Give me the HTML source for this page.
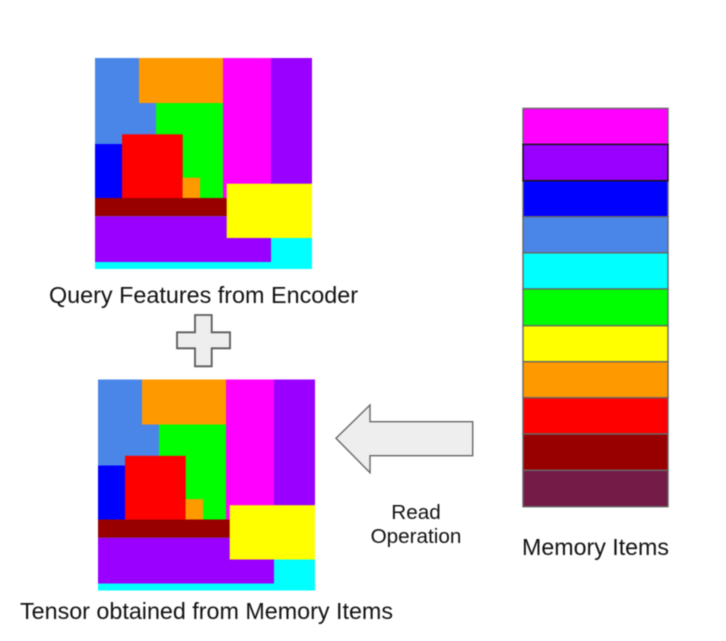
<!DOCTYPE html>
<html>
<head>
<meta charset="utf-8">
<style>
html,body{margin:0;padding:0;background:#fff;width:726px;height:641px;overflow:hidden}
svg{display:block;position:absolute;left:0;top:0;filter:blur(.45px)}
text{font-family:"Liberation Sans",sans-serif;fill:#111}
</style>
</head>
<body>
<svg width="726" height="641" viewBox="0 0 726 641" xmlns="http://www.w3.org/2000/svg">
<defs>
<g id="t">
<rect x="95" y="58" width="217" height="211" fill="#00ffff"/>
<rect x="95" y="58" width="61" height="86" fill="#4a86e8"/>
<rect x="95" y="144" width="27" height="54" fill="#0000ff"/>
<rect x="156" y="103" width="67" height="95" fill="#00ff00"/>
<rect x="139" y="58" width="84" height="45" fill="#ff9900"/>
<rect x="223" y="58" width="48" height="140" fill="#ff00ff"/>
<rect x="271" y="58" width="41" height="126" fill="#9900ff"/>
<rect x="122" y="134.3" width="60.7" height="63.7" fill="#ff0000"/>
<rect x="182.7" y="177.7" width="17.3" height="20.3" fill="#ff9900"/>
<rect x="95" y="198" width="132" height="18.3" fill="#980000"/>
<rect x="95" y="216.3" width="176" height="45.7" fill="#9900ff"/>
<rect x="226.7" y="183.7" width="85.3" height="54.3" fill="#ffff00"/>
</g>
</defs>
<use href="#t"/>
<use href="#t" transform="translate(3,321.5)"/>

<g stroke="#666" stroke-width="1.4">
<rect x="523" y="108.4" width="145" height="36" fill="#ff00ff"/>
<rect x="523" y="180.7" width="145" height="36" fill="#0000ff"/>
<rect x="523" y="216.7" width="145" height="36" fill="#4a86e8"/>
<rect x="523" y="252.8" width="145" height="36.2" fill="#00ffff"/>
<rect x="523" y="289" width="145" height="36.7" fill="#00ff00"/>
<rect x="523" y="325.7" width="145" height="36" fill="#ffff00"/>
<rect x="523" y="361.7" width="145" height="36" fill="#ff9900"/>
<rect x="523" y="397.7" width="145" height="36.3" fill="#ff0000"/>
<rect x="523" y="434" width="145" height="36.3" fill="#980000"/>
<rect x="523" y="470.3" width="145" height="36.4" fill="#741b47"/>
</g>
<rect x="523" y="144.4" width="145" height="36.3" fill="#9900ff" stroke="#111" stroke-width="1.4"/>

<path d="M336 438.3 L370 405 L370 421.7 L472.7 421.7 L472.7 455.7 L370 455.7 L370 472.7 Z" fill="#eeeeee" stroke="#666" stroke-width="1.4" stroke-linejoin="miter"/>
<path d="M195 315 H211.7 V332.3 H230 V348.3 H211.7 V366.3 H195 V348.3 H177 V332.3 H195 Z" fill="#eeeeee" stroke="#5a5a5a" stroke-width="1.8"/>

<text x="49" y="303" font-size="23" textLength="309" lengthAdjust="spacingAndGlyphs">Query Features from Encoder</text>
<text x="20" y="619" font-size="23" textLength="373" lengthAdjust="spacingAndGlyphs">Tensor obtained from Memory Items</text>
<text x="522" y="555" font-size="23" textLength="147" lengthAdjust="spacingAndGlyphs">Memory Items</text>
<text x="416" y="519" font-size="20.7" text-anchor="middle">Read</text>
<text x="416" y="543" font-size="20.7" text-anchor="middle">Operation</text>
</svg>
</body>
</html>
